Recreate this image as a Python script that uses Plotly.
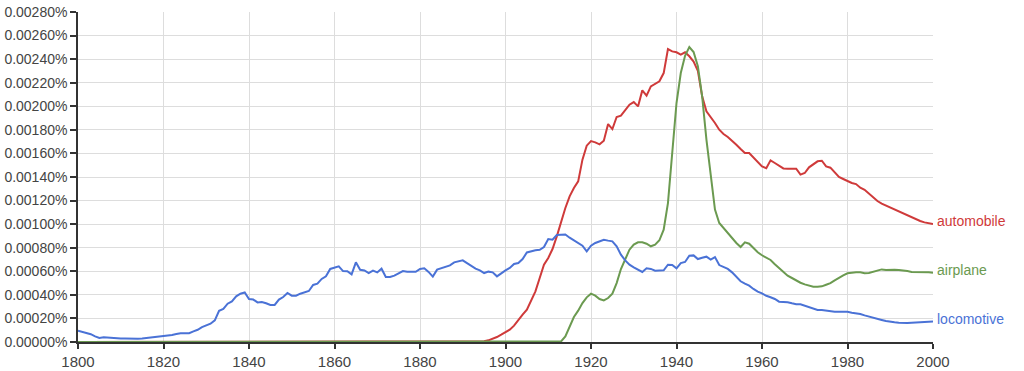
import plotly.graph_objects as go

# values in units of 0.00001 %
SCALE = 1e-5

years = list(range(1800, 2001))

locomotive = [
    9.5, 8.7, 7.5, 6.6, 4.8, 3.4, 4.0, 3.6, 3.2, 3.0,
    3.0, 2.9, 2.8, 2.5, 2.8, 3.0, 3.4, 3.7, 4.0, 4.2,
    4.8, 5.3, 6.0, 6.8, 7.5, 7.5, 7.5, 9.0, 10.4, 12.6,
    13.8, 15.5, 18.4, 26.5, 28.0, 32.5, 34.5, 38.7, 41.0, 42.0,
    36.5, 36.0, 33.6, 34.0, 32.9, 31.4, 31.4, 36.0, 38.2, 41.6,
    39.3, 39.3, 41.0, 42.0, 43.3, 48.4, 49.5, 53.5, 55.7, 62.0,
    62.8, 64.2, 60.2, 60.0, 57.4, 67.6, 61.3, 60.7, 58.5, 60.5,
    59.0, 62.2, 55.1, 55.1, 56.3, 58.0, 60.2, 59.6, 59.6, 59.6,
    62.0, 62.5, 59.5, 55.5, 61.4, 62.8, 63.6, 65.0, 67.6, 68.4,
    69.3, 67.0, 64.2, 62.2, 60.8, 58.5, 59.7, 59.1, 55.7, 58.5,
    60.8, 62.8, 66.2, 67.0, 70.4, 76.0, 77.2, 77.8, 78.3, 80.6,
    87.4, 86.8, 90.8, 91.3, 91.3, 88.5, 86.3, 83.4, 81.7, 76.9,
    81.7, 84.0, 85.7, 86.8, 86.0, 85.4, 81.2, 74.1, 69.3, 65.6,
    63.3, 61.4, 59.4, 62.5, 62.0, 60.5, 60.8, 60.8, 65.6, 65.3,
    62.5, 67.0, 67.9, 73.2, 73.5, 70.4, 71.5, 72.4, 69.9, 72.1,
    65.3, 63.6, 62.0, 59.1, 55.7, 51.5, 49.5, 47.8, 45.0, 42.7,
    41.2, 39.2, 38.0, 36.5, 34.2, 34.2, 33.7, 32.8, 32.0, 32.0,
    30.8, 29.7, 28.6, 27.1, 27.1, 26.6, 25.7, 25.7, 25.7, 25.7,
    25.7, 24.9, 24.6, 23.8, 22.6, 21.5, 20.4, 19.5, 18.7, 17.8,
    17.0, 16.7, 16.4, 16.1, 16.1, 16.4, 16.7, 17.0, 17.0, 17.0,
    17.3,
]

automobile = [
    0, 0, 0, 0, 0, 0, 0, 0, 0, 0,
    0, 0, 0, 0, 0, 0, 0, 0, 0, 0,
    0, 0, 0, 0, 0, 0, 0, 0, 0, 0,
    0, 0, 0, 0, 0, 0, 0, 0, 0, 0,
    0, 0, 0, 0, 0, 0, 0, 0, 0, 0,
    0, 0, 0, 0, 0, 0, 0, 0, 0, 0,
    0, 0, 0, 0, 0, 0, 0, 0, 0, 0,
    0, 0, 0, 0, 0, 0, 0, 0, 0, 0,
    0, 0, 0, 0, 0, 0, 0, 0, 0, 0,
    0.1, 0.1, 0.2, 0.3, 0.4, 0.6, 1.4, 2.5, 4.2, 6.2,
    8.2, 10.5, 13.9, 18.9, 23.2, 27.4, 34.5, 43.0, 54.3, 65.6,
    71.3, 78.9, 89.6, 102.4, 113.7, 123.6, 130.7, 136.3, 154.7, 166.6,
    170.5, 169.4, 167.7, 170.8, 184.9, 180.7, 190.9, 192.0, 196.3, 201.4,
    203.6, 199.9, 213.5, 209.0, 216.9, 218.9, 221.2, 228.2, 248.6, 246.6,
    245.8, 243.8, 245.8, 242.4, 238.0, 230.0, 208.4, 195.7, 190.9, 185.8,
    180.1, 176.5, 173.9, 170.8, 167.4, 163.7, 160.3, 160.3, 156.7, 152.7,
    149.0, 147.5, 154.1, 151.9, 149.6, 147.3, 147.1, 147.3, 147.1, 142.0,
    143.4, 148.2, 150.7, 153.3, 153.8, 149.0, 147.9, 143.9, 140.0, 138.3,
    136.6, 134.9, 134.0, 130.9, 129.2, 125.8, 122.5, 119.6, 117.4, 115.7,
    114.0, 112.3, 110.6, 108.9, 107.2, 106.0, 104.4, 102.7, 101.5, 101.0,
    100.1,
]

airplane = [
    0, 0, 0, 0, 0, 0, 0, 0, 0, 0,
    0, 0, 0, 0, 0, 0, 0, 0, 0, 0,
    0, 0, 0, 0, 0, 0, 0, 0, 0, 0,
    0, 0, 0, 0, 0, 0, 0, 0, 0, 0,
    0, 0, 0, 0, 0, 0, 0, 0, 0, 0,
    0, 0, 0, 0, 0, 0, 0, 0, 0, 0,
    0, 0, 0, 0, 0, 0, 0, 0, 0, 0,
    0, 0, 0, 0, 0, 0, 0, 0, 0, 0,
    0, 0, 0, 0, 0, 0, 0, 0, 0, 0,
    0, 0, 0, 0, 0, 0, 0, 0, 0, 0,
    0, 0, 0, 0, 0, 0, 0, 0, 0, 0,
    0, 0, 0, 0.5, 4.8, 13.3, 21.2, 26.6, 33.0, 37.9,
    41.0, 39.3, 36.5, 35.3, 37.3, 41.0, 50.0, 61.9, 69.9, 78.3,
    82.6, 84.6, 84.6, 83.4, 81.2, 82.6, 86.3, 95.3, 117.9, 163.2,
    202.8, 228.2, 242.9, 250.3, 246.0, 234.0, 208.4, 171.7, 140.5, 112.3,
    101.0, 96.7, 91.9, 87.4, 84.0, 80.6, 84.6, 83.4, 79.7, 76.1,
    73.6, 71.7, 69.6, 66.0, 62.5, 59.1, 56.3, 54.3, 52.0, 50.3,
    48.9, 47.8, 46.9, 46.9, 47.2, 48.6, 50.0, 52.3, 54.6, 56.6,
    58.3, 58.8, 59.1, 59.1, 58.3, 58.5, 59.7, 60.5, 61.6, 61.1,
    61.4, 61.4, 61.1, 60.8, 60.2, 59.4, 59.4, 59.7, 59.4, 59.1,
    58.8,
]

series = [
    ("automobile", automobile, "#cf3a3a"),
    ("airplane", airplane, "#6b9a50"),
    ("locomotive", locomotive, "#4a72d6"),
]

x_ticks = list(range(1800, 2001, 20))

FONT = "Liberation Sans, Arial, sans-serif"

fig = go.Figure()
annotations = []
for name, vals, color in series:
    yv = [v * SCALE for v in vals]
    fig.add_trace(go.Scatter(
        x=years, y=yv, mode="lines", name=name,
        line=dict(color=color, width=2),
        showlegend=False,
    ))
    annotations.append(dict(
        x=years[-1], y=yv[-1], xref="x", yref="y", text=name,
        showarrow=False, xanchor="left", yanchor="middle",
        xshift=2, yshift=3,
        font=dict(family=FONT, size=14, color=color),
    ))

fig.update_layout(
    width=1024, height=371,
    margin=dict(l=78, r=91, t=12, b=29),
    paper_bgcolor="white", plot_bgcolor="white",
    annotations=annotations,
    font=dict(family=FONT, size=14, color="#444"),
)
fig.update_xaxes(
    range=[1800, 2000], tickvals=x_ticks, ticktext=[str(t) for t in x_ticks],
    showgrid=True, gridcolor="#dddddd", gridwidth=1,
    showline=True, linecolor="#333333", linewidth=1.5,
    ticks="outside", ticklen=5, tickcolor="#333333", tickwidth=1.5,
    zeroline=False, layer="below traces", automargin=False,
    tickfont=dict(family=FONT, size=15, color="#444"),
)
fig.update_yaxes(
    range=[0, 0.0028], dtick=0.0002, tick0=0,
    tickformat=".5f", ticksuffix="%",
    showgrid=True, gridcolor="#dddddd", gridwidth=1,
    showline=True, linecolor="#333333", linewidth=1.5,
    ticks="outside", ticklen=6, tickcolor="#333333", tickwidth=1.5,
    zeroline=False, layer="below traces", automargin=False,
    tickfont=dict(family=FONT, size=14, color="#444"),
)

fig.write_html("out.html")
